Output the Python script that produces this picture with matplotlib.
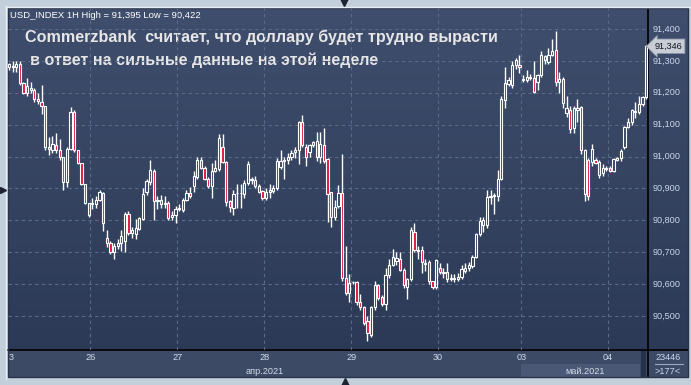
import numpy as np
import matplotlib
matplotlib.use("Agg")
import matplotlib.pyplot as plt
from matplotlib.colors import LinearSegmentedColormap
from matplotlib.patches import Rectangle

# hourly candles, USD index
opens = [91.28, 91.285, 91.28, 91.29, 91.23, 91.20, 91.215, 91.21, 91.18, 91.17,
         91.16, 91.025, 91.02, 91.035, 91.02, 91.00, 90.92, 91.025, 91.14, 91.02,
         90.98, 90.915, 90.855, 90.85, 90.852, 90.865, 90.885, 90.745, 90.73, 90.70,
         90.72, 90.73, 90.735, 90.82, 90.76, 90.757, 90.773, 90.805, 90.89, 90.92,
         90.955, 90.86, 90.865, 90.85, 90.855, 90.81, 90.815, 90.84, 90.833, 90.865,
         90.885, 90.908, 90.936, 90.99, 90.965, 90.93, 90.908, 90.955, 90.96, 91.03,
         90.983, 90.86, 90.84, 90.885, 90.885, 90.884, 90.917, 90.926, 90.927, 90.908,
         90.891, 90.87, 90.89, 90.893, 90.90, 90.967, 90.986, 90.988, 90.998, 91.014,
         91.02, 91.108, 91.03, 91.013, 91.035, 91.048, 91.00, 91.036, 90.992, 90.889,
         90.81, 90.845, 90.886, 90.62, 90.572, 90.605, 90.607, 90.545, 90.528, 90.484,
         90.44, 90.528, 90.597, 90.56, 90.538, 90.628, 90.66, 90.672, 90.68, 90.644,
         90.592, 90.615, 90.764, 90.703, 90.707, 90.664, 90.668, 90.608, 90.592, 90.65,
         90.635, 90.637, 90.62, 90.616, 90.617, 90.622, 90.641, 90.65, 90.657, 90.686,
         90.757, 90.785, 90.785, 90.874, 90.875, 90.877, 90.929, 91.177, 91.228, 91.224,
         91.287, 91.287, 91.24, 91.24, 91.25, 91.246, 91.235, 91.255, 91.316, 91.296,
         91.32, 91.334, 91.235, 91.243, 91.137, 91.146, 91.09, 91.146, 91.155, 90.883,
         90.99, 90.983, 90.99, 90.983, 90.948, 90.963, 90.963, 90.955, 90.99, 90.995,
         91.03, 91.093, 91.108, 91.143, 91.14, 91.165, 91.187]
highs = [91.295, 91.30, 91.30, 91.30, 91.235, 91.245, 91.235, 91.215, 91.20, 91.225,
         91.16, 91.06, 91.065, 91.075, 91.055, 91.00, 91.03, 91.155, 91.145, 91.02,
         90.98, 90.915, 90.855, 90.87, 90.875, 90.895, 90.89, 90.77, 90.735, 90.73,
         90.74, 90.77, 90.825, 90.83, 90.78, 90.805, 90.81, 90.90, 90.93, 90.99,
         90.96, 90.875, 90.88, 90.875, 90.86, 90.83, 90.845, 90.85, 90.87, 90.895,
         90.905, 90.955, 91.00, 91.00, 90.97, 90.935, 90.98, 90.99, 91.07, 91.07,
         90.985, 90.865, 90.895, 90.915, 90.915, 90.925, 90.985, 90.935, 90.94, 90.915,
         90.895, 90.90, 90.915, 90.91, 90.995, 91.02, 91.00, 91.01, 91.02, 91.03,
         91.11, 91.13, 91.04, 91.04, 91.05, 91.076, 91.076, 91.09, 90.995, 90.89,
         90.865, 90.91, 91.008, 90.72, 90.632, 90.61, 90.61, 90.57, 90.53, 90.50,
         90.53, 90.61, 90.60, 90.565, 90.65, 90.68, 90.71, 90.70, 90.70, 90.65,
         90.62, 90.78, 90.79, 90.72, 90.72, 90.68, 90.675, 90.61, 90.68, 90.665,
         90.65, 90.665, 90.63, 90.63, 90.635, 90.66, 90.665, 90.67, 90.69, 90.76,
         90.81, 90.81, 90.895, 90.895, 90.885, 90.958, 91.19, 91.28, 91.25, 91.30,
         91.31, 91.32, 91.255, 91.27, 91.26, 91.30, 91.26, 91.33, 91.32, 91.34,
         91.368, 91.395, 91.265, 91.25, 91.19, 91.16, 91.16, 91.18, 91.16, 91.025,
         90.995, 91.04, 90.995, 90.99, 90.975, 90.97, 90.97, 90.995, 91.00, 91.025,
         91.095, 91.12, 91.15, 91.17, 91.19, 91.19, 91.35]
lows = [91.27, 91.265, 91.265, 91.225, 91.195, 91.19, 91.20, 91.17, 91.165, 91.135,
        91.02, 91.005, 91.01, 91.01, 90.99, 90.895, 90.905, 91.02, 91.015, 90.975,
        90.91, 90.85, 90.81, 90.835, 90.84, 90.86, 90.765, 90.715, 90.695, 90.68,
        90.71, 90.705, 90.70, 90.755, 90.745, 90.74, 90.77, 90.80, 90.88, 90.91,
        90.80, 90.835, 90.84, 90.84, 90.80, 90.80, 90.79, 90.83, 90.825, 90.86,
        90.87, 90.89, 90.93, 90.96, 90.925, 90.90, 90.87, 90.95, 90.955, 90.98,
        90.845, 90.825, 90.815, 90.84, 90.84, 90.87, 90.91, 90.915, 90.90, 90.885,
        90.865, 90.865, 90.87, 90.885, 90.895, 90.96, 90.93, 90.975, 90.99, 90.995,
        90.975, 91.03, 90.97, 91.00, 91.03, 90.985, 90.98, 90.98, 90.795, 90.78,
        90.80, 90.84, 90.61, 90.565, 90.545, 90.60, 90.535, 90.52, 90.47, 90.422,
        90.435, 90.52, 90.55, 90.53, 90.52, 90.62, 90.655, 90.66, 90.64, 90.588,
        90.552, 90.61, 90.70, 90.68, 90.635, 90.64, 90.60, 90.585, 90.585, 90.63,
        90.62, 90.605, 90.61, 90.605, 90.61, 90.615, 90.635, 90.64, 90.65, 90.683,
        90.75, 90.764, 90.775, 90.85, 90.82, 90.86, 90.925, 91.152, 91.22, 91.215,
        91.275, 91.262, 91.235, 91.235, 91.24, 91.20, 91.21, 91.25, 91.29, 91.29,
        91.315, 91.22, 91.20, 91.152, 91.124, 91.075, 91.075, 91.108, 91.008, 90.86,
        90.864, 90.97, 90.975, 90.933, 90.94, 90.955, 90.95, 90.95, 90.985, 90.985,
        91.025, 91.09, 91.10, 91.12, 91.135, 91.16, 91.18]
closes = [91.29, 91.28, 91.29, 91.23, 91.20, 91.22, 91.21, 91.18, 91.175, 91.16,
          91.03, 91.03, 91.04, 91.02, 91.00, 90.92, 91.025, 91.14, 91.02, 90.98,
          90.915, 90.855, 90.815, 90.855, 90.865, 90.89, 90.79, 90.73, 90.70, 90.72,
          90.73, 90.75, 90.82, 90.76, 90.77, 90.775, 90.807, 90.883, 90.923, 90.958,
          90.86, 90.865, 90.85, 90.855, 90.807, 90.815, 90.835, 90.835, 90.865, 90.885,
          90.876, 90.94, 90.99, 90.965, 90.93, 90.908, 90.955, 90.965, 91.058, 90.983,
          90.857, 90.842, 90.883, 90.887, 90.887, 90.917, 90.977, 90.93, 90.908, 90.889,
          90.87, 90.89, 90.895, 90.90, 90.986, 90.987, 90.99, 91.00, 91.01, 91.02,
          91.108, 91.035, 91.00, 91.035, 91.045, 91.00, 91.04, 90.986, 90.883, 90.81,
          90.842, 90.886, 90.62, 90.572, 90.603, 90.607, 90.545, 90.528, 90.478, 90.447,
          90.528, 90.597, 90.556, 90.538, 90.628, 90.66, 90.686, 90.681, 90.644, 90.597,
          90.615, 90.77, 90.707, 90.707, 90.668, 90.667, 90.608, 90.592, 90.676, 90.637,
          90.638, 90.615, 90.617, 90.619, 90.623, 90.647, 90.65, 90.66, 90.686, 90.757,
          90.799, 90.80, 90.874, 90.877, 90.878, 90.929, 91.181, 91.23, 91.24, 91.287,
          91.303, 91.28, 91.243, 91.25, 91.247, 91.203, 91.255, 91.319, 91.303, 91.32,
          91.332, 91.234, 91.243, 91.168, 91.152, 91.086, 91.152, 91.152, 91.02, 91.02,
          90.877, 91.024, 90.98, 90.942, 90.964, 90.962, 90.955, 90.992, 90.995, 91.017,
          91.093, 91.108, 91.146, 91.14, 91.165, 91.187, 91.346]

price_ticks = [90.5, 90.6, 90.7, 90.8, 90.9, 91.0, 91.1, 91.2, 91.3, 91.4]
price_labels = ["90,500", "90,600", "90,700", "90,800", "90,900",
                "91,000", "91,100", "91,200", "91,300", "91,400"]
day_labels = ["26", "27", "28", "29", "30", "03", "04"]
day_starts = [23, 47, 71, 95, 119, 142, 166]  # first candle of each day
last_price = 91.346
header = "USD_INDEX 1H High = 91,395 Low = 90,422"
title_1 = "Commerzbank  считает, что доллару будет трудно вырасти"
title_2 = "в ответ на сильные данные на этой неделе"

W, H = 691, 385
FONT = "Liberation Sans"
fig = plt.figure(figsize=(W / 100, H / 100), dpi=100)
fig.patch.set_facecolor("#c4cfdc")


def px_axes(x0, y0, x1, y1):
    # box in pixels, y counted from the top
    return fig.add_axes([x0 / W, 1 - y1 / H, (x1 - x0) / W, (y1 - y0) / H])


# panel background
bg = px_axes(8, 8, 688, 377)
grad = np.linspace(0, 1, 256).reshape(-1, 1)
cmap = LinearSegmentedColormap.from_list("panel", ["#3f4e6c", "#2a3855"])
bg.imshow(grad, aspect="auto", cmap=cmap, extent=[0, 1, 0, 1])
bg.axis("off")

# frame, strips and fixed text, in pixel space
ov = fig.add_axes([0, 0, 1, 1])
ov.set_xlim(0, W)
ov.set_ylim(H, 0)
ov.axis("off")
ov.patch.set_alpha(0)

ov.add_patch(Rectangle((8, 350), 680, 27, fc="#3c4a66", ec="none", zorder=0))
ov.add_patch(Rectangle((521, 364), 119, 13, fc="#4a5876", ec="none", zorder=1))
ov.add_patch(Rectangle((641, 350), 5, 27, fc="#27324a", ec="none", zorder=1))
ov.plot([648, 648], [8, 377], color="black", lw=1.2, zorder=2)
ov.plot([8, 688], [350, 350], color="black", lw=1.2, zorder=2)
ov.add_patch(Rectangle((8, 8), 680, 369, fc="none", ec="#2a3348", lw=1, zorder=2))
ov.plot([6.5, 6.5], [6, 379], color="#e8eef5", lw=1, zorder=2)
ov.plot([6, 690], [6.5, 6.5], color="#e8eef5", lw=1, zorder=2)

ov.text(11, 358, "3", ha="center", va="center", fontsize=6.6,
        family=FONT, color="#d3dcec", zorder=3)
ov.text(265, 371, "апр.2021", ha="center", va="center", fontsize=6.6,
        family=FONT, color="#d3dcec", zorder=3)
ov.text(585, 371, "май.2021", ha="center", va="center", fontsize=6.6,
        family=FONT, color="#d3dcec", zorder=3)
ov.text(668, 357, "23446", ha="center", va="center", fontsize=6.6,
        family=FONT, color="#c9d5ec", zorder=3)
ov.plot([655, 683], [364, 364], color="#9aa6bd", lw=0.8, zorder=3)
ov.text(668, 371, ">177<", ha="center", va="center", fontsize=6.6,
        family=FONT, color="#c9d5ec", zorder=3)

ov.text(10, 15, header, ha="left", va="center", fontsize=6.8,
        family=FONT, color="white", zorder=3)
ov.text(25, 42, title_1, ha="left", va="baseline", fontsize=11.6,
        family=FONT, weight="bold", color="#e6e6e6", zorder=3)
ov.text(30, 64.5, title_2, ha="left", va="baseline", fontsize=11.6,
        family=FONT, weight="bold", color="#e6e6e6", zorder=3)

ov.plot(344, 2, marker="v", ms=6, color="#1c2434", zorder=3)
ov.plot(345, 382, marker="^", ms=6, color="#1c2434", zorder=3)
ov.plot(3, 190, marker=">", ms=4, color="#1c2434", zorder=3)

# price chart
ax = px_axes(8, 8, 648, 350)
ax.patch.set_alpha(0)
ax.set_xlim(-0.28, 176.5)
ax.set_ylim(90.393, 91.466)
for s in ax.spines.values():
    s.set_visible(False)
ax.set_xticks([])
ax.set_yticks([])

grid_kw = dict(color="#5a6a8a", lw=0.8, linestyle=(0, (3, 3)), zorder=1)
for p in price_ticks:
    ax.axhline(p, **grid_kw)
for d in day_starts:
    ax.axvline(d - 0.5, **grid_kw)

o = np.array(opens)
h = np.array(highs)
l = np.array(lows)
c = np.array(closes)
x = np.arange(len(o))
top = np.maximum(o, c)
bot = np.minimum(o, c)
ax.vlines(x, top, h, color="white", lw=1.0, zorder=2)
ax.vlines(x, l, bot, color="white", lw=1.0, zorder=2)
up = c >= o
ax.bar(x[up], (top - bot)[up], bottom=bot[up], width=0.62,
       facecolor="none", edgecolor="white", lw=0.8, zorder=3)
ax.bar(x[~up], (top - bot)[~up], bottom=bot[~up], width=0.62,
       facecolor="#e3143e", edgecolor="white", lw=0.8, zorder=3)

# price scale on the right
ytr = ax.get_yaxis_transform()
for p, lab in zip(price_ticks, price_labels):
    ax.text(1.007, p, lab, transform=ytr, ha="left", va="center",
            fontsize=6.6, family=FONT, color="#c9d5ec", clip_on=False)
ax.text(1.01, last_price, "91,346", transform=ytr, ha="left", va="center",
        fontsize=6.6, family=FONT, color="#10141c", clip_on=False, zorder=6,
        bbox=dict(boxstyle="larrow,pad=0.3", fc="#c9cdd6", ec="#8a93a3", lw=0.6))

# day labels under the chart
xtr = ax.get_xaxis_transform()
for d, lab in zip(day_starts, day_labels):
    ax.text(d - 0.5, -0.023, lab, transform=xtr, ha="center", va="center",
            fontsize=6.6, family=FONT, color="#d3dcec", clip_on=False)

fig.savefig("out.png", dpi=100, facecolor=fig.get_facecolor())
